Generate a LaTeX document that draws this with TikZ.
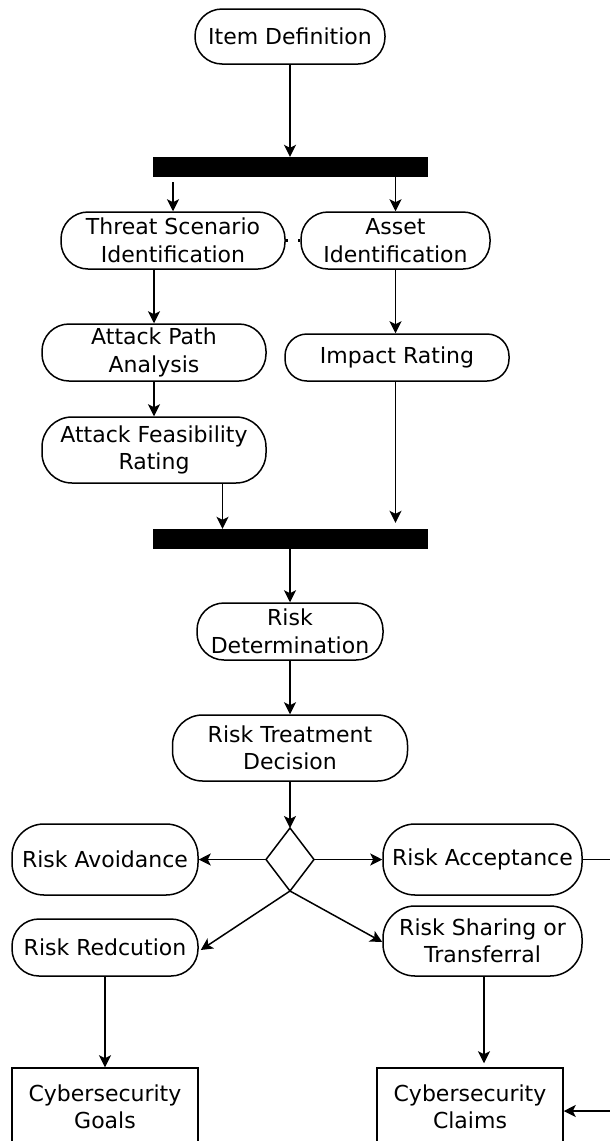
\documentclass[tikz,border=0pt]{standalone}
\usepackage{fontspec}
\setmainfont{DejaVu Sans}
\usetikzlibrary{arrows.meta}
\begin{document}
\begin{tikzpicture}[x=1pt,y=-1pt,
  every node/.style={font=\fontsize{22}{27.5}\selectfont, align=center, inner sep=0pt},
  act/.style={draw, line width=1.5pt, rounded corners=27pt},
  bar/.style={fill=black, minimum width=275pt, minimum height=20pt},
  outbox/.style={draw, line width=1.5pt, minimum width=186pt, minimum height=80pt},
  arr/.style={line width=1.5pt, -{Stealth[length=12pt,width=12pt,inset=3pt]}},
  ln/.style={line width=1.5pt}]
\useasboundingbox (0,0) rectangle (610,1141);
\clip (0,0) rectangle (610,1141);

% activities
\node[act, minimum width=190pt, minimum height=55pt] (item) at (290,36.5) {Item Definition};
\node[bar] (bar1) at (290,167) {};
\node[act, minimum width=224pt, minimum height=57pt] (threat) at (173,240.5) {Threat Scenario\\Identification};
\node[act, minimum width=189pt, minimum height=57pt] (asset) at (395.5,240.5) {Asset\\Identification};
\node[act, minimum width=224pt, minimum height=57pt] (apa) at (154,352.5) {Attack Path\\Analysis};
\node[act, rounded corners=22pt, minimum width=224pt, minimum height=47pt] (impact) at (397,357.5) {Impact Rating};
\node[act, rounded corners=30pt, minimum width=224pt, minimum height=66pt] (afr) at (154,450) {Attack Feasibility\\Rating};
\node[bar] (bar2) at (290,539) {};
\node[act, minimum width=186pt, minimum height=57pt] (rdet) at (290,631.5) {Risk\\Determination};
\node[act, rounded corners=30pt, minimum width=235pt, minimum height=66pt] (rtd) at (290,748) {Risk Treatment\\Decision};

% decision
\coordinate (dt) at (290,828);
\coordinate (dl) at (266,859.5);
\coordinate (dr) at (314,859.5);
\coordinate (db) at (290,891);
\draw[ln, line join=miter] (dt) -- (dr) -- (db) -- (dl) -- cycle;

% treatment options
\node[act, rounded corners=32pt, minimum width=186pt, minimum height=71pt] (ravo) at (105,859.5) {Risk Avoidance};
\node[act, rounded corners=32pt, minimum width=199pt, minimum height=71pt] (racc) at (482.5,859.5) {Risk Acceptance};
\node[act, minimum width=186pt, minimum height=57pt] (rred) at (105,947.5) {Risk Redcution};
\node[act, rounded corners=32pt, minimum width=199pt, minimum height=70pt] (rshare) at (482.5,941) {Risk Sharing or\\Transferral};

% work products
\node[outbox, text depth=3pt] (goals) at (105,1108) {Cybersecurity\\Goals};
\node[outbox, text depth=3pt] (claims) at (470,1108) {Cybersecurity\\Claims};

% connector end points
\coordinate (afrout) at ([xshift=68.5pt]afr.south);
\coordinate (shareout) at ([xshift=1.5pt]rshare.south);

% connectors
\draw[arr] (item.south) -- (item |- bar1.north);
\draw[arr] ([yshift=-5pt]bar1.south -| threat) -- (threat.north);
\draw[arr] (bar1.south -| asset) -- (asset.north);
\draw[line width=2.5pt] (threat.east) -- ++(2,0);
\draw[line width=2.5pt] (asset.west) -- ++(-2,0);
\draw[arr] (threat.south -| apa) -- (apa.north);
\draw[arr] (asset.south) -- (impact.north -| asset);
\draw[arr] (apa.south) -- (afr.north);
\draw[arr] (afrout) -- (bar2.north -| afrout);
\draw[arr] (impact.south -| asset) -- ([yshift=6pt]bar2.north -| asset);
\draw[arr] (bar2.south -| rdet) -- (rdet.north);
\draw[arr] (rdet.south) -- (rtd.north);
\draw[arr] (rtd.south) -- (dt);
\draw[arr] (dl) -- (ravo.east);
\draw[arr] (dr) -- (racc.west);
\draw[arr] (db) -- ([xshift=2pt,yshift=-2.5pt]rred.east);
\draw[arr] (db) -- ([yshift=-1pt]rshare.west);
\draw[arr] (rred.south) -- (rred |- goals.north);
\draw[arr] (shareout) -- ([yshift=4pt]claims.north -| shareout);
\draw[arr] (racc.east) -- ++(40,0) |- ([yshift=-3pt]claims.east);
\end{tikzpicture}
\end{document}
